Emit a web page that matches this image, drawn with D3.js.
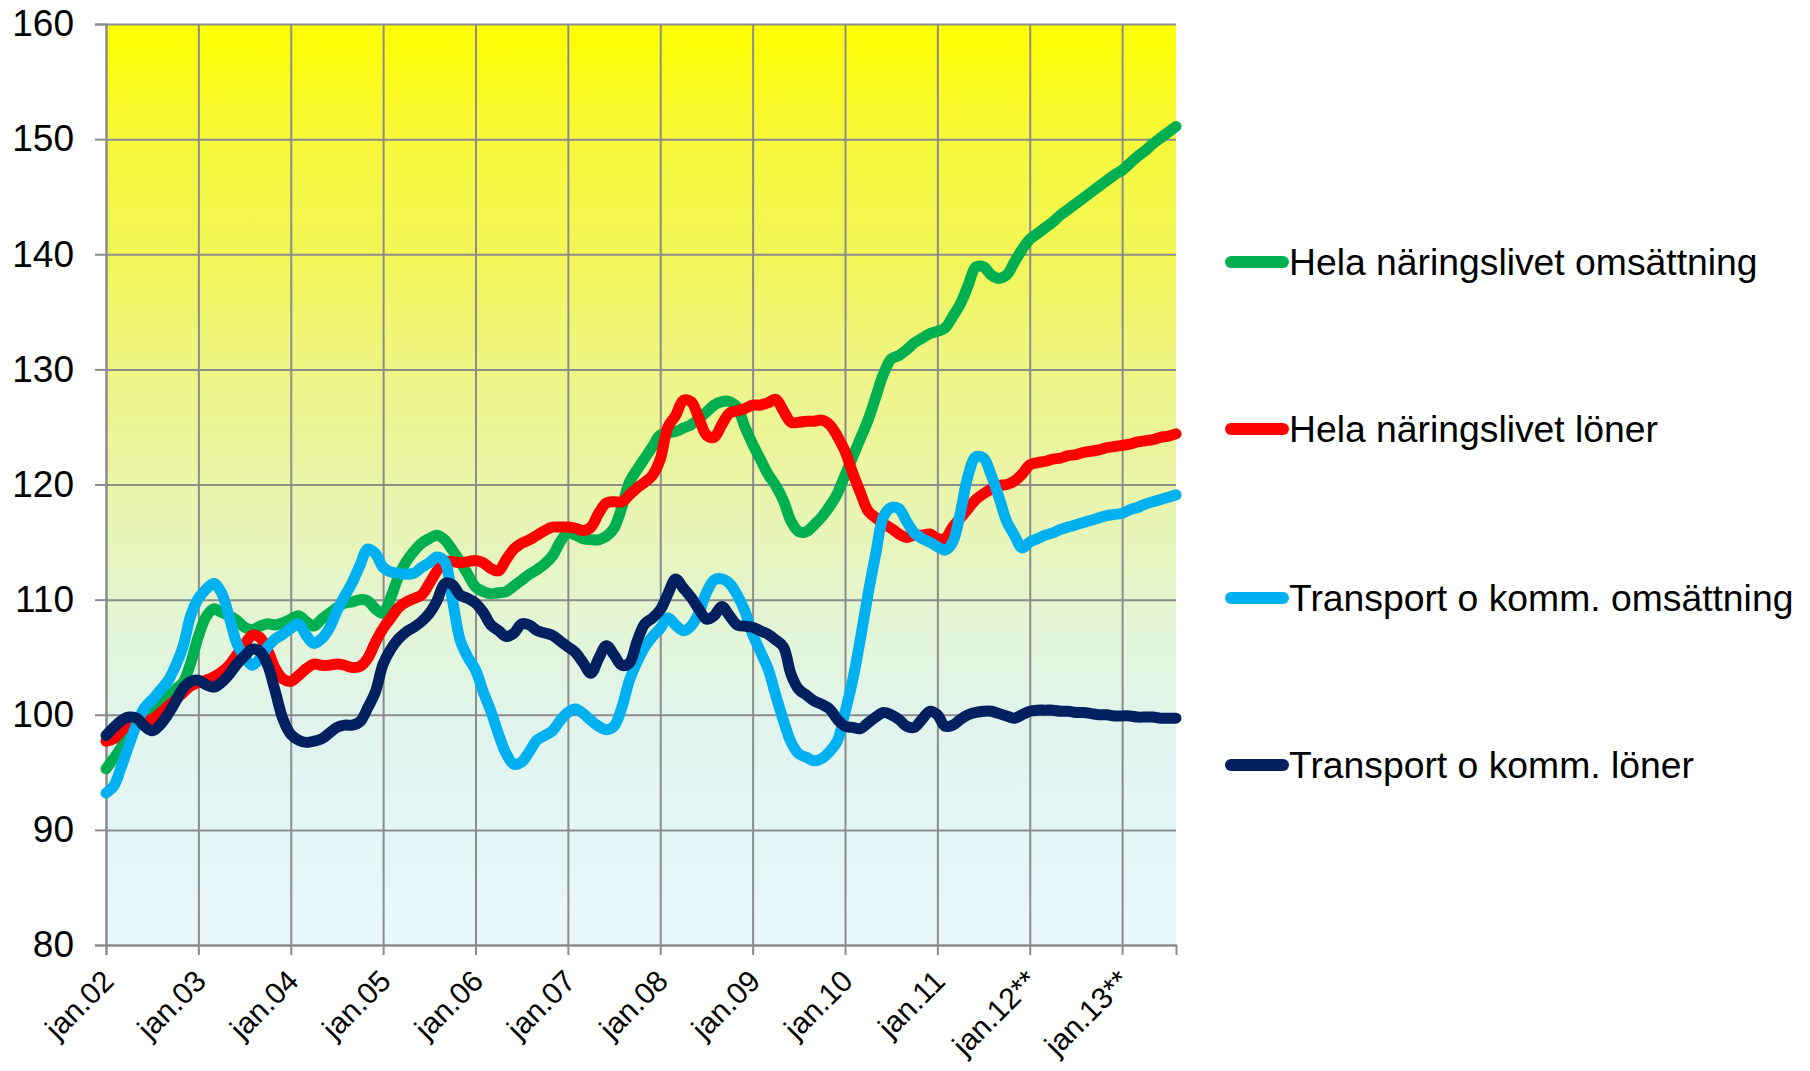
<!DOCTYPE html>
<html>
<head>
<meta charset="utf-8">
<script src="https://cdn.jsdelivr.net/npm/d3@7"></script>
<style>
  body { margin: 0; background: #fff; }
  svg { display: block; font-family: "Liberation Sans", Arial, sans-serif; }
</style>
</head>
<body>
<script>
// monthly index, jan.02 = 0
const yearLabels = ["jan.02", "jan.03", "jan.04", "jan.05", "jan.06", "jan.07", "jan.08",
  "jan.09", "jan.10", "jan.11", "jan.12**", "jan.13**"];
const yTicks = [80, 90, 100, 110, 120, 130, 140, 150, 160];

const helaOms = [
  95.3, 96.2, 97.2, 98.5, 99.3, 99.7, 100.2, 100.8, 101.5, 102.2, 102.8, 104.5,
  106.8, 108.5, 109.2, 108.9, 108.6, 108.2, 107.6, 107.4, 107.7, 107.9, 107.8, 108.0,
  108.3, 108.6, 108.1, 107.7, 108.3, 108.8, 109.3, 109.7, 109.8, 110.0, 109.9, 109.2,
  108.8, 110.2, 112.0, 113.3, 114.2, 114.9, 115.3, 115.6, 115.2, 114.3, 113.3, 112.2,
  111.1, 110.7, 110.5, 110.6, 110.7, 111.2, 111.7, 112.2, 112.6, 113.1, 113.8, 115.0,
  115.8, 115.6, 115.3, 115.2, 115.2, 115.5, 116.2, 118.0, 120.2, 121.3, 122.3, 123.3,
  124.3, 124.5, 124.6, 124.9, 125.2, 125.7, 126.3, 126.9, 127.2, 127.2, 126.7, 125.0,
  123.5, 122.2, 120.9, 119.9, 118.6, 116.8, 115.9, 115.9, 116.5, 117.2, 118.1, 119.2,
  120.8, 122.4, 124.0, 125.6, 127.6, 129.6, 130.9, 131.2, 131.7, 132.3, 132.7, 133.1,
  133.3, 133.6, 134.6, 135.7, 137.3, 138.9, 138.9, 138.2, 137.9, 138.2, 139.3, 140.4,
  141.3, 141.8, 142.3, 142.8, 143.4, 143.9, 144.4, 144.9, 145.4, 145.9, 146.4, 146.9,
  147.3, 147.9, 148.5, 149.0, 149.6, 150.1, 150.6, 151.1
];

const helaLoner = [
  97.7, 97.9, 98.6, 99.1, 99.4, 99.5, 99.6, 100.1, 100.7, 101.3, 101.9, 102.5,
  102.8, 103.0, 103.3, 103.7, 104.3, 105.2, 106.1, 106.9, 106.7, 105.6, 104.0, 103.1,
  102.9, 103.4, 104.0, 104.4, 104.3, 104.3, 104.4, 104.3, 104.1, 104.2, 104.9, 106.3,
  107.5, 108.4, 109.3, 109.8, 110.1, 110.4, 111.4, 112.5, 113.3, 113.3, 113.2, 113.3,
  113.4, 113.2, 112.7, 112.5, 113.5, 114.4, 114.9, 115.2, 115.6, 116.0, 116.3, 116.3,
  116.3, 116.2, 116.0, 116.3, 117.5, 118.4, 118.5, 118.5, 119.1, 119.7, 120.2, 120.8,
  122.2, 125.0, 126.0, 127.3, 127.2, 125.8, 124.3, 124.1, 125.2, 126.2, 126.4, 126.6,
  126.9, 126.9, 127.1, 127.4, 126.4, 125.4, 125.4, 125.5, 125.5, 125.6, 125.2, 124.2,
  122.9, 121.0, 119.3, 117.7, 117.1, 116.6, 116.2, 115.7, 115.4, 115.6, 115.6, 115.7,
  115.3, 115.3, 116.3, 117.1, 117.9, 118.7, 119.2, 119.6, 119.9, 120.0, 120.3, 120.9,
  121.7, 121.9, 122.0, 122.2, 122.3, 122.5, 122.6, 122.8, 122.9, 123.0, 123.2, 123.3,
  123.4, 123.5, 123.7, 123.8, 123.9, 124.1, 124.2, 124.4
];

const transOms = [
  93.2, 93.8, 95.5, 97.4, 99.2, 100.6, 101.3, 102.1, 102.9, 104.2, 105.9, 108.6,
  110.1, 110.9, 111.4, 110.6, 108.5, 106.2, 105.0, 104.3, 104.9, 105.9, 106.6, 107.0,
  107.5, 107.9, 106.9, 106.2, 106.6, 107.5, 109.0, 110.3, 111.5, 113.0, 114.4, 114.0,
  112.8, 112.4, 112.3, 112.2, 112.3, 112.8, 113.2, 113.7, 113.3, 110.0, 106.5, 105.0,
  103.9, 102.0, 100.3, 98.3, 96.6, 95.7, 95.9, 96.8, 97.8, 98.2, 98.6, 99.5,
  100.2, 100.5, 100.1, 99.5, 99.0, 98.7, 99.0, 100.6, 103.0, 104.6, 105.9, 106.8,
  107.5, 108.4, 107.8, 107.3, 107.7, 108.8, 110.6, 111.7, 111.8, 111.4, 110.4, 109.0,
  107.0, 105.5, 104.0, 101.7, 99.5, 97.6, 96.6, 96.3, 96.0, 96.2, 96.8, 97.7,
  100.2, 103.0, 106.6, 110.5, 114.0, 117.2, 118.0, 117.9, 116.8, 115.8, 115.3, 115.0,
  114.6, 114.3, 115.0, 117.6, 120.8, 122.4, 122.3, 120.8, 118.9, 116.8, 115.6, 114.5,
  115.0, 115.3, 115.6, 115.8, 116.1, 116.3, 116.5, 116.7, 116.9, 117.1, 117.3, 117.4,
  117.5, 117.8, 118.0, 118.3, 118.5, 118.7, 118.9, 119.1
];

const transLoner = [
  98.2, 98.9, 99.5, 99.8, 99.7, 99.0, 98.6, 99.1, 100.0, 101.1, 102.3, 102.9,
  103.0, 102.6, 102.4, 102.8, 103.5, 104.4, 105.1, 105.7, 105.5, 104.3, 102.0, 99.6,
  98.3, 97.8, 97.6, 97.7, 97.9, 98.4, 98.9, 99.1, 99.1, 99.4, 100.6, 102.0,
  104.4, 105.7, 106.6, 107.2, 107.6, 108.1, 108.8, 109.9, 111.4, 111.3, 110.4, 110.1,
  109.7, 108.9, 107.8, 107.3, 106.8, 107.1, 107.9, 107.8, 107.3, 107.1, 106.9, 106.4,
  105.9, 105.4, 104.5, 103.6, 104.9, 106.0, 105.2, 104.3, 104.5, 106.4, 107.9, 108.4,
  109.1, 110.5, 111.8, 111.0, 110.2, 109.2, 108.3, 108.6, 109.4, 108.6, 107.8, 107.7,
  107.6, 107.3, 107.0, 106.5, 105.9, 103.5, 102.2, 101.7, 101.2, 100.9, 100.5, 99.6,
  99.0, 98.9, 98.8, 99.3, 99.8, 100.2, 100.0, 99.6, 99.0, 98.9, 99.6, 100.3,
  100.0, 99.0, 99.1, 99.6, 100.0, 100.2, 100.3, 100.3, 100.1, 99.9, 99.7, 100.0,
  100.3, 100.4, 100.4, 100.4, 100.3, 100.3, 100.2, 100.2, 100.1, 100.0, 100.0, 99.9,
  99.9, 99.9, 99.8, 99.8, 99.8, 99.7, 99.7, 99.7
];

const seriesNames = ["Hela näringslivet omsättning", "Hela näringslivet löner",
  "Transport o komm. omsättning", "Transport o komm. löner"];
const seriesColors = ["#00B050", "#FF0000", "#00B0F0", "#002060"];
const seriesValues = [helaOms, helaLoner, transOms, transLoner];

const width = 1810, height = 1071;
const plotLeft = 106, plotRight = 1176, plotTop = 24, plotBottom = 945;

const svg = d3.select("body").append("svg")
  .attr("width", width)
  .attr("height", height);

const x = d3.scaleLinear().domain([0, helaOms.length - 1]).range([plotLeft, plotRight]);
const y = d3.scaleLinear().domain([80, 160]).range([plotBottom, plotTop]);

// plot background gradient, yellow on top to pale cyan
const grad = svg.append("defs").append("linearGradient")
  .attr("id", "bg").attr("x1", 0).attr("y1", 0).attr("x2", 0).attr("y2", 1);
[["0%", "#FFFF00"], ["12.5%", "#F7F83A"], ["25%", "#F2F657"], ["37.5%", "#EEF584"],
 ["50%", "#EAF5A8"], ["62.5%", "#E4F5CE"], ["75%", "#E0F4EC"], ["87.5%", "#E4F6F7"],
 ["100%", "#EAF8FB"]].forEach(s => grad.append("stop").attr("offset", s[0]).attr("stop-color", s[1]));

svg.append("rect")
  .attr("x", plotLeft).attr("y", plotTop)
  .attr("width", plotRight - plotLeft).attr("height", plotBottom - plotTop)
  .attr("fill", "url(#bg)");

const gridColor = "#8C8C8C";

// y axis with horizontal gridlines
const yAxis = svg.append("g")
  .attr("transform", `translate(${plotLeft},0)`)
  .call(d3.axisLeft(y).tickValues(yTicks).tickSize(11).tickPadding(21));
yAxis.select(".domain").attr("stroke", gridColor).attr("stroke-width", 2);
yAxis.selectAll(".tick line").attr("stroke", gridColor).attr("stroke-width", 2);
yAxis.selectAll(".tick text")
  .attr("font-size", 37).attr("fill", "#000")
  .attr("font-family", "Liberation Sans, Arial, sans-serif");
yAxis.selectAll(".tick").append("line")
  .attr("x1", 0).attr("x2", plotRight - plotLeft)
  .attr("stroke", gridColor).attr("stroke-width", 2);

// x axis: one tick per january
const janIdx = yearLabels.map((d, i) => i * 12);
const xAxis = svg.append("g")
  .attr("transform", `translate(0,${plotBottom})`)
  .call(d3.axisBottom(x).tickValues(janIdx).tickSize(10).tickFormat((d, i) => yearLabels[i]));
xAxis.select(".domain").attr("stroke", gridColor).attr("stroke-width", 2);
xAxis.selectAll(".tick line").attr("stroke", gridColor).attr("stroke-width", 2);
xAxis.selectAll(".tick").append("line")
  .attr("y1", 0).attr("y2", plotTop - plotBottom)
  .attr("stroke", gridColor).attr("stroke-width", 2);
xAxis.selectAll(".tick text")
  .attr("font-size", 30).attr("fill", "#000")
  .attr("font-family", "Liberation Sans, Arial, sans-serif")
  .attr("text-anchor", "end")
  .attr("y", 0).attr("dy", 0)
  .attr("transform", "translate(9,38) rotate(-45)");

// lines
const line = d3.line()
  .x((d, i) => x(i))
  .y(d => y(d))
  .curve(d3.curveCatmullRom.alpha(0.5));

svg.append("g").selectAll("path")
  .data(seriesValues)
  .join("path")
  .attr("d", line)
  .attr("fill", "none")
  .attr("stroke", (d, i) => seriesColors[i])
  .attr("stroke-width", 11)
  .attr("stroke-linejoin", "round")
  .attr("stroke-linecap", "round");

// legend
const legendY = [262, 429, 598, 765];
const legend = svg.append("g").selectAll("g")
  .data(seriesNames)
  .join("g")
  .attr("transform", (d, i) => `translate(1231,${legendY[i]})`);
legend.append("line")
  .attr("x1", 0).attr("x2", 52)
  .attr("stroke", (d, i) => seriesColors[i])
  .attr("stroke-width", 12)
  .attr("stroke-linecap", "round");
legend.append("text")
  .attr("x", 58).attr("dy", "0.35em")
  .attr("font-size", 37.3)
  .attr("fill", "#000")
  .text(d => d);
</script>
</body>
</html>
